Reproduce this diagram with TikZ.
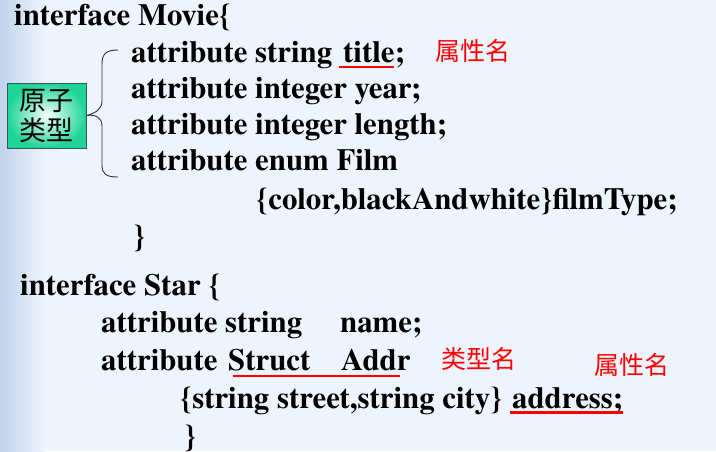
\documentclass[tikz,border=0pt]{standalone}
\usepackage{fontspec}
\setmainfont{TeX Gyre Termes}
\newfontfamily\cjk{Noto Sans CJK SC}
\definecolor{bgblue}{RGB}{238,244,253}
\definecolor{edgeblue}{RGB}{192,211,237}
\definecolor{boxout}{RGB}{30,212,152}
\definecolor{boxin}{RGB}{245,255,252}
\definecolor{boxline}{RGB}{50,90,80}
\definecolor{redtxt}{RGB}{255,0,0}
\begin{document}
\begin{tikzpicture}[x=1pt,y=-1pt,
  code/.style={anchor=base west,inner sep=0pt,text=black,font=\fontsize{30.8}{36}\selectfont\bfseries},
  note/.style={anchor=west,inner sep=0pt,text=redtxt,font=\cjk\fontsize{25}{28}\selectfont},
  uline/.style={draw=redtxt,line width=2.6pt},
  bracepath/.style={draw=black!80,line width=0.9pt},
  ]
\useasboundingbox (0,0) rectangle (716,451);
\fill[bgblue] (0,0) rectangle (716,451);
\shade[left color=edgeblue,right color=bgblue] (0,0) rectangle (45,451);

% interface Movie
\node[code] (m1) at (14,25) {interface Movie\{};
\node[code] (m2a) at (131,62) {attribute string};
\node[code] (m2b) at (343,62) {title};
\node[code] (m2c) at (m2b.base east) {;};
\node[code] (m3) at (131,98) {attribute integer year;};
\node[code] (m4) at (131,134) {attribute integer length;};
\node[code] (m5) at (131,170) {attribute enum Film};
\node[code] (m6) at (256,209) {\{color,blackAndwhite\}filmType;};
\node[code] (m7) at (133,246) {\}};

% interface Star
\node[code] (s1) at (20,295) {interface Star \{};
\node[code] (s2a) at (101,332) {attribute string};
\node[code] (s2b) at (340,332) {name;};
\node[code] (s3a) at (101,370) {attribute};
\node[code] (s3b) at (228,370) {Struct};
\node[code] (s3c) at (341,370) {Addr};
\node[code] (s4a) at (180,408) {\{string street,string city\}};
\node[code] (s4b) at (512,408) {address;};
\node[code] (s5) at (184,446) {\}};

% red notes
\node[note] (n1) at (435,51) {属性名};
\node[note] (n2) at (441,359) {类型名};
\node[note] (n3) at (594,365) {属性名};

% underlines
\draw[uline] ([xshift=-4pt,yshift=-5pt]m2b.base west) -- ([xshift=-1pt,yshift=-5pt]m2b.base east);
\draw[uline] ([xshift=5pt,yshift=-6pt]s3b.base west) -- ([xshift=-11pt,yshift=-6pt]s3c.base east);
\draw[uline] ([xshift=-2pt,yshift=-4.5pt]s4b.base west) -- ([yshift=-4.5pt]s4b.base east);

% green box
\node[draw=boxline,line width=0.8pt,minimum width=79pt,minimum height=65pt,inner sep=0pt,
      inner color=boxin,outer color=boxout,align=center,
      font=\cjk\fontsize{27}{30}\selectfont] (box) at (46.5,115.5) {原子\\类型};

% brace
\coordinate (bt) at (118,50);
\coordinate (bb) at (118,177);
\coordinate (tip) at (box.east);
\draw[bracepath] (bt) .. controls (106,50) and (102,54) .. (102,64) -- (102,101)
  .. controls (102,109) and (96,113) .. (tip)
  .. controls (96,114) and (102,118) .. (102,126) -- (102,165)
  .. controls (102,174) and (106,177) .. (bb);
\end{tikzpicture}
\end{document}
